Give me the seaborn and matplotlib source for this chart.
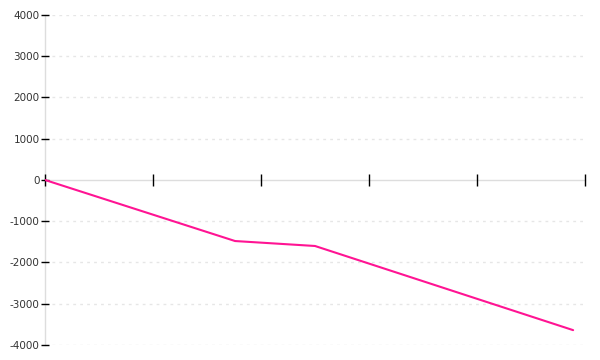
import matplotlib
matplotlib.use("Agg")
import matplotlib.pyplot as plt
import seaborn as sns
import pandas as pd

x_values = [0.0, 1.76, 2.50, 4.89]
y_values = [0, -1480, -1600, -3640]
x_ticks = [0, 1, 2, 3, 4, 5]
y_ticks = [-4000, -3000, -2000, -1000, 0, 1000, 2000, 3000, 4000]

sns.set_style("white")
plt.rcParams['font.family'] = ['DejaVu Sans']

df = pd.DataFrame({"x": x_values, "y": y_values})

fig = plt.figure(figsize=(6, 3.6), dpi=100)
ax = fig.add_axes([0.075, 0.0417, 0.9, 0.9167])

for v in y_ticks:
    if v != 0:
        ax.axhline(v, color="#e6e6e6", linestyle=(0, (2, 3)), linewidth=1, zorder=0)

sns.lineplot(data=df, x="x", y="y", color="#ff1493", linewidth=1.5, ax=ax, zorder=5)

ax.set_xlim(0, 5)
ax.set_ylim(-4000, 4000)
ax.set_xticks(x_ticks)
ax.set_xticklabels([])
ax.set_yticks(y_ticks)
ax.set_yticklabels([str(v) for v in y_ticks])
ax.set_xlabel("")
ax.set_ylabel("")

for s in ["top", "right"]:
    ax.spines[s].set_visible(False)
ax.spines["bottom"].set_position(("data", 0))
ax.spines["bottom"].set_color("#dddddd")
ax.spines["left"].set_color("#dddddd")
ax.spines["bottom"].set_linewidth(1)
ax.spines["left"].set_linewidth(1)
ax.spines["bottom"].set_zorder(0.5)
ax.spines["left"].set_zorder(0.5)
ax.xaxis.set_zorder(3)
ax.yaxis.set_zorder(3)

ax.tick_params(axis="x", direction="inout", length=8, width=1, color="black", bottom=True)
ax.tick_params(axis="y", direction="inout", length=6, width=1, color="black", left=True,
               labelsize=7.5, labelcolor="#333333", pad=1)

fig.savefig("out.png", dpi=100)
